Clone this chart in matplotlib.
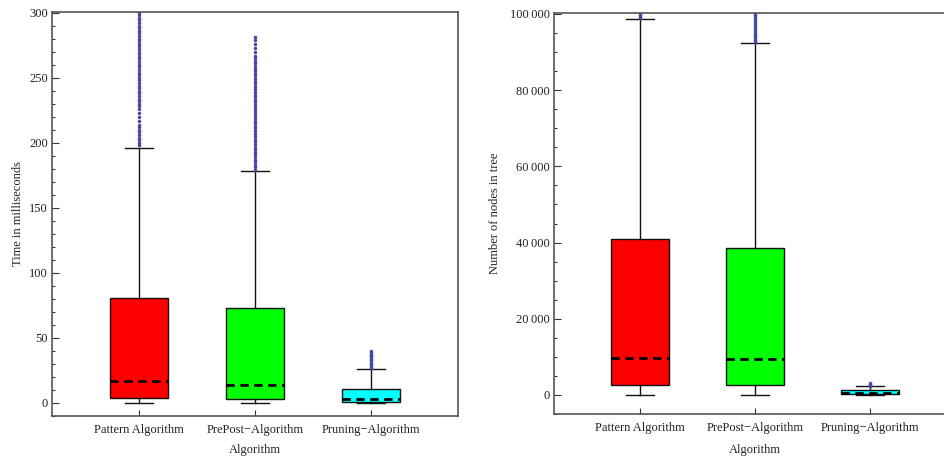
import matplotlib
matplotlib.use("Agg")
import matplotlib.pyplot as plt
from matplotlib.ticker import MultipleLocator, FuncFormatter

categories = ["Pattern Algorithm", "PrePost\u2212Algorithm", "Pruning\u2212Algorithm"]
box_colors = ["#ff0000", "#00ff00", "#00ffff"]

# Time in milliseconds: (whislo, q1, med, q3, whishi)
time_stats = [
    (0, 4, 17, 81, 196),
    (0, 3, 14, 73, 178),
    (0, 1, 3, 11, 26),
]
time_outliers = [
    [198, 200, 202, 204, 206, 208, 210, 212, 214, 217, 220, 223, 226, 228, 230, 232, 234, 236,
     238, 240, 242, 244, 246, 248, 250, 252, 254, 256, 258, 260, 262, 264, 266, 268, 270, 272,
     274, 276, 278, 280, 282, 284, 286, 288, 290, 292, 294, 296, 298, 300, 302],
    [179, 181, 183, 185, 187, 189, 191, 193, 195, 197, 199, 201, 203, 205, 207, 209, 211, 213,
     215, 217, 219, 221, 223, 225, 227, 229, 231, 233, 235, 237, 239, 241, 243, 245, 247, 249,
     251, 253, 255, 257, 259, 261, 263, 265, 267, 270, 273, 276, 279, 281],
    [27, 28, 29, 30, 31, 32, 33, 34, 35, 36, 37, 38, 39, 40],
]

# Number of nodes in tree: (whislo, q1, med, q3, whishi)
node_stats = [
    (0, 2500, 9600, 41000, 98600),
    (0, 2500, 9400, 38500, 92300),
    (0, 300, 600, 1200, 2350),
]
node_outliers = [
    [98900, 99300, 99700, 100100, 100500],
    [92600, 93100, 93600, 94100, 94600, 95100, 95600, 96100, 96600, 97100, 97600, 98100,
     98600, 99100, 99600, 100100, 100600],
    [2450, 2600, 2750, 2900, 3050],
]

plt.rcParams['font.family'] = ['Liberation Serif', 'DejaVu Serif']

fig = plt.figure(figsize=(9.45, 4.57), dpi=100)
ax1 = fig.add_axes([52/945, 1-416/457, 406/945, 404/457])
ax2 = fig.add_axes([554/945, 1-414/457, 402/945, 401.3/457])

flier_color = "#4646a6"
spine_color = "#555555"
FS = 9

def draw(ax, stats, outliers, ylabel, ylim, major, minor, fmt=None, ylabelpad=6, xlabelpad=7):
    bstats = []
    for (lo, q1, med, q3, hi), fl in zip(stats, outliers):
        bstats.append(dict(whislo=lo, q1=q1, med=med, q3=q3, whishi=hi, fliers=fl))
    res = ax.bxp(bstats, positions=[1, 2, 3], widths=0.5, patch_artist=True,
                 showfliers=True,
                 boxprops=dict(edgecolor="#111111", linewidth=1.0),
                 whiskerprops=dict(color="#111111", linewidth=1.0),
                 capprops=dict(color="#111111", linewidth=1.0),
                 medianprops=dict(color="black", linewidth=2.0, linestyle=(0, (3, 2))),
                 flierprops=dict(marker='o', markersize=1.5, markerfacecolor=flier_color,
                                 markeredgecolor=flier_color, linestyle='none'),
                 capwidths=0.24)
    for patch, c in zip(res['boxes'], box_colors):
        patch.set_facecolor(c)
    ax.set_xlim(0.25, 3.75)
    ax.set_ylim(*ylim)
    ax.set_xticks([1, 2, 3])
    ax.set_xticklabels(categories, fontsize=FS)
    ax.yaxis.set_major_locator(MultipleLocator(major))
    ax.yaxis.set_minor_locator(MultipleLocator(minor))
    if fmt:
        ax.yaxis.set_major_formatter(fmt)
    ax.tick_params(axis='y', which='major', direction='in', length=5, width=0.8,
                   colors='#333333', labelsize=FS, pad=3)
    ax.tick_params(axis='y', which='minor', direction='in', length=2.5, width=0.8, colors='#333333')
    ax.tick_params(axis='x', which='major', direction='in', length=4, width=0.8,
                   colors='#333333', labelsize=FS, pad=6)
    for lab in ax.get_xticklabels() + ax.get_yticklabels():
        lab.set_color('#222222')
    for s in ax.spines.values():
        s.set_color(spine_color)
        s.set_linewidth(1.2)
    ax.set_xlabel("Algorithm", fontsize=FS, color='#222222', labelpad=xlabelpad)
    ax.set_ylabel(ylabel, fontsize=FS, color='#222222', labelpad=ylabelpad)

draw(ax1, time_stats, time_outliers, "Time in milliseconds", (-10, 300.5), 50, 10,
     ylabelpad=4, xlabelpad=5.5)

def nodes_fmt(v, pos):
    v = int(round(v))
    if v >= 1000:
        return f"{v // 1000}\u2009{v % 1000:03d}"
    return str(v)

draw(ax2, node_stats, node_outliers, "Number of nodes in tree", (-5000, 100330), 20000, 5000,
     FuncFormatter(nodes_fmt), ylabelpad=6, xlabelpad=7)

fig.savefig("out.png", dpi=100)
